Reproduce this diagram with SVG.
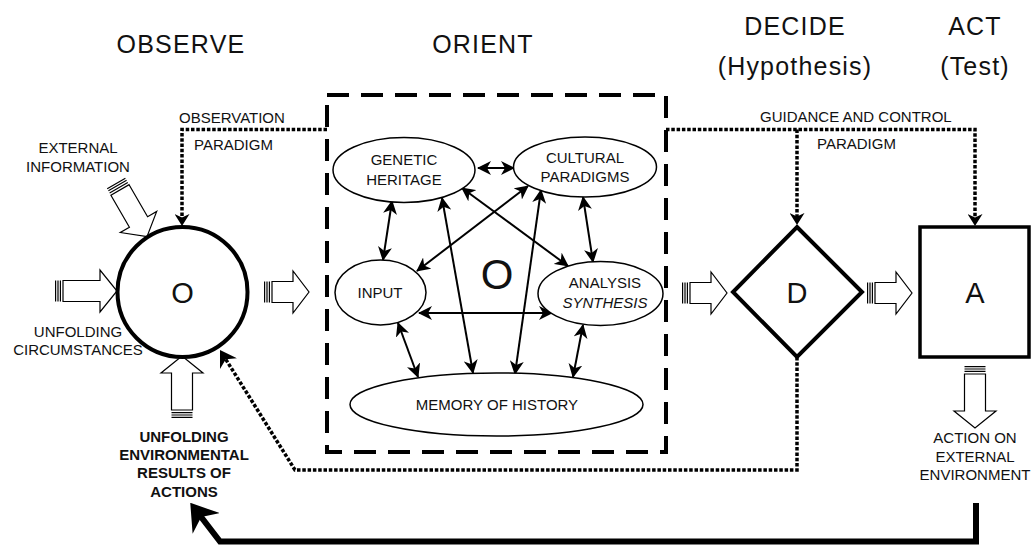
<svg xmlns="http://www.w3.org/2000/svg" width="1031" height="545" viewBox="0 0 1031 545">
<style>
text{font-family:"Liberation Sans",Arial,sans-serif;fill:#111}
.title{font-size:25px;letter-spacing:1.2px;text-anchor:middle}
.lbl{font-size:15px;text-anchor:middle}
.lblL{font-size:15px}
.big{font-size:29px;text-anchor:middle}
.bold{font-size:15px;font-weight:bold;text-anchor:middle}
.node{fill:#fff;stroke:#000}
.ell{fill:#fff;stroke:#000;stroke-width:1.5}
.thin{fill:none;stroke:#000;stroke-width:2;marker-start:url(#ah);marker-end:url(#ah)}
.dot{fill:none;stroke:#000;stroke-width:3.5;stroke-dasharray:3.5 1.8}
.blk{fill:#fff;stroke:#000;stroke-width:1.2}
.stripe{fill:none;stroke:#000;stroke-width:1.2}
</style>
<defs>
<marker id="ah" viewBox="0 0 14 14" markerWidth="14" markerHeight="14" refX="13" refY="7" orient="auto-start-reverse" markerUnits="userSpaceOnUse"><path d="M0,0 L14,7 L0,14 L4,7 Z" fill="#000"/></marker>
<marker id="dh" viewBox="0 0 12 15" markerWidth="12" markerHeight="15" refX="4" refY="7.5" orient="auto" markerUnits="userSpaceOnUse"><path d="M0,0 L12,7.5 L0,15 L3.5,7.5 Z" fill="#000"/></marker>
<marker id="fh" viewBox="0 0 16 20" markerWidth="16" markerHeight="20" refX="6" refY="10" orient="auto" markerUnits="userSpaceOnUse"><path d="M0,0 L16,10 L0,20 L5,10 Z" fill="#000"/></marker>
<marker id="th" viewBox="0 0 26 34" markerWidth="26" markerHeight="34" refX="10" refY="17" orient="auto" markerUnits="userSpaceOnUse"><path d="M0,0 L26,17 L0,34 L8,17 Z" fill="#000"/></marker>
<g id="blkL">
<path class="stripe" d="M0.6,-10.5V10.5M3,-10.5V10.5M5.4,-10.5V10.5"/>
<polygon class="blk" points="8,-10.5 45,-10.5 45,-21 62,0 45,21 45,10.5 8,10.5"/>
</g>
<g id="blkS">
<path class="stripe" d="M0.6,-10.5V10.5M3,-10.5V10.5M5.4,-10.5V10.5"/>
<polygon class="blk" points="8,-10.5 29,-10.5 29,-21 45,0 29,21 29,10.5 8,10.5"/>
</g>
</defs>
<rect width="1031" height="545" fill="#fff"/>

<g id="titles">
<text class="title" x="181" y="53">OBSERVE</text>
<text class="title" x="483" y="53">ORIENT</text>
<text class="title" x="795" y="35">DECIDE</text>
<text class="title" x="795" y="75">(Hypothesis)</text>
<text class="title" x="975" y="35">ACT</text>
<text class="title" x="975" y="75">(Test)</text>
</g>

<g id="orient-box">
<rect x="327" y="95" width="339" height="357" fill="none" stroke="#000" stroke-width="4" stroke-dasharray="22 12"/>
<text x="497" y="289" style="font-size:42px;text-anchor:middle">O</text>
</g>

<g id="connectors">
<path class="dot" d="M327,129.5H182V218" marker-end="url(#dh)"/>
<path class="dot" d="M666,129.5H975V218" marker-end="url(#dh)"/>
<path class="dot" d="M797,129.5V217" marker-end="url(#dh)"/>
<path class="dot" d="M797,357V470H295L225.3,358.5" marker-end="url(#fh)"/>
<path d="M976,503V541.5H220L200,515.5" fill="none" stroke="#000" stroke-width="6" marker-end="url(#th)"/>
<line class="thin" x1="478" y1="168" x2="514" y2="168"/>
<line class="thin" x1="392" y1="201" x2="383" y2="260"/>
<line class="thin" x1="583" y1="197" x2="593" y2="262"/>
<line class="thin" x1="528" y1="186" x2="417" y2="271"/>
<line class="thin" x1="462" y1="188" x2="568" y2="266"/>
<line class="thin" x1="442" y1="198" x2="473" y2="373"/>
<line class="thin" x1="541" y1="190" x2="515" y2="374"/>
<line class="thin" x1="419" y1="313" x2="552" y2="313"/>
<line class="thin" x1="398" y1="323" x2="418" y2="377"/>
<line class="thin" x1="583" y1="325" x2="573" y2="377"/>
<use href="#blkL" transform="translate(55,291)"/>
<use href="#blkL" transform="translate(116,183) rotate(60)"/>
<use href="#blkL" transform="translate(182,418) rotate(-90)"/>
<use href="#blkS" transform="translate(264,292)"/>
<use href="#blkS" transform="translate(682,293)"/>
<use href="#blkS" transform="translate(867,293)"/>
<use href="#blkL" transform="translate(975,366) rotate(90)"/>
</g>

<g id="observe">
<circle class="node" cx="182.5" cy="292" r="65" stroke-width="4"/>
<text class="big" x="182.5" y="302.5">O</text>
</g>

<g id="decide">
<polygon class="node" points="797,227 862,292 797,357 733,292" stroke-width="4"/>
<text class="big" x="797" y="302.5">D</text>
</g>

<g id="act">
<rect class="node" x="920" y="227" width="109" height="130" stroke-width="3.5"/>
<text class="big" x="975" y="303">A</text>
</g>

<g id="genetic-heritage">
<ellipse class="ell" cx="404" cy="170" rx="71" ry="32.5"/>
<text class="lbl" x="404" y="165">GENETIC</text>
<text class="lbl" x="404" y="185">HERITAGE</text>
</g>

<g id="cultural-paradigms">
<ellipse class="ell" cx="585" cy="167" rx="71.5" ry="30"/>
<text class="lbl" x="585" y="163">CULTURAL</text>
<text class="lbl" x="585" y="182">PARADIGMS</text>
</g>

<g id="input">
<ellipse class="ell" cx="380.5" cy="292.5" rx="45.5" ry="32.5"/>
<text class="lbl" x="380" y="298">INPUT</text>
</g>

<g id="analysis">
<ellipse class="ell" cx="600.5" cy="293.5" rx="62.5" ry="32"/>
<text class="lbl" x="605" y="288">ANALYSIS</text>
<text class="lbl" x="605" y="308" font-style="italic">SYNTHESIS</text>
</g>

<g id="memory">
<ellipse class="ell" cx="496.5" cy="404.5" rx="146.5" ry="31.5"/>
<text class="lbl" x="497" y="410">MEMORY OF HISTORY</text>
</g>

<g id="labels">
<text class="lblL" x="179" y="123">OBSERVATION</text>
<text class="lblL" x="194" y="150">PARADIGM</text>
<text class="lbl" x="78" y="153">EXTERNAL</text>
<text class="lbl" x="78" y="172">INFORMATION</text>
<text class="lbl" x="78" y="337">UNFOLDING</text>
<text class="lbl" x="78" y="355">CIRCUMSTANCES</text>
<text class="bold" x="184" y="442">UNFOLDING</text>
<text class="bold" x="184" y="460">ENVIRONMENTAL</text>
<text class="bold" x="184" y="478">RESULTS OF</text>
<text class="bold" x="184" y="497">ACTIONS</text>
<text class="lblL" x="760" y="122">GUIDANCE AND CONTROL</text>
<text class="lblL" x="817" y="149">PARADIGM</text>
<text class="lbl" x="975" y="443">ACTION ON</text>
<text class="lbl" x="975" y="462">EXTERNAL</text>
<text class="lbl" x="975" y="480">ENVIRONMENT</text>
</g>
</svg>
